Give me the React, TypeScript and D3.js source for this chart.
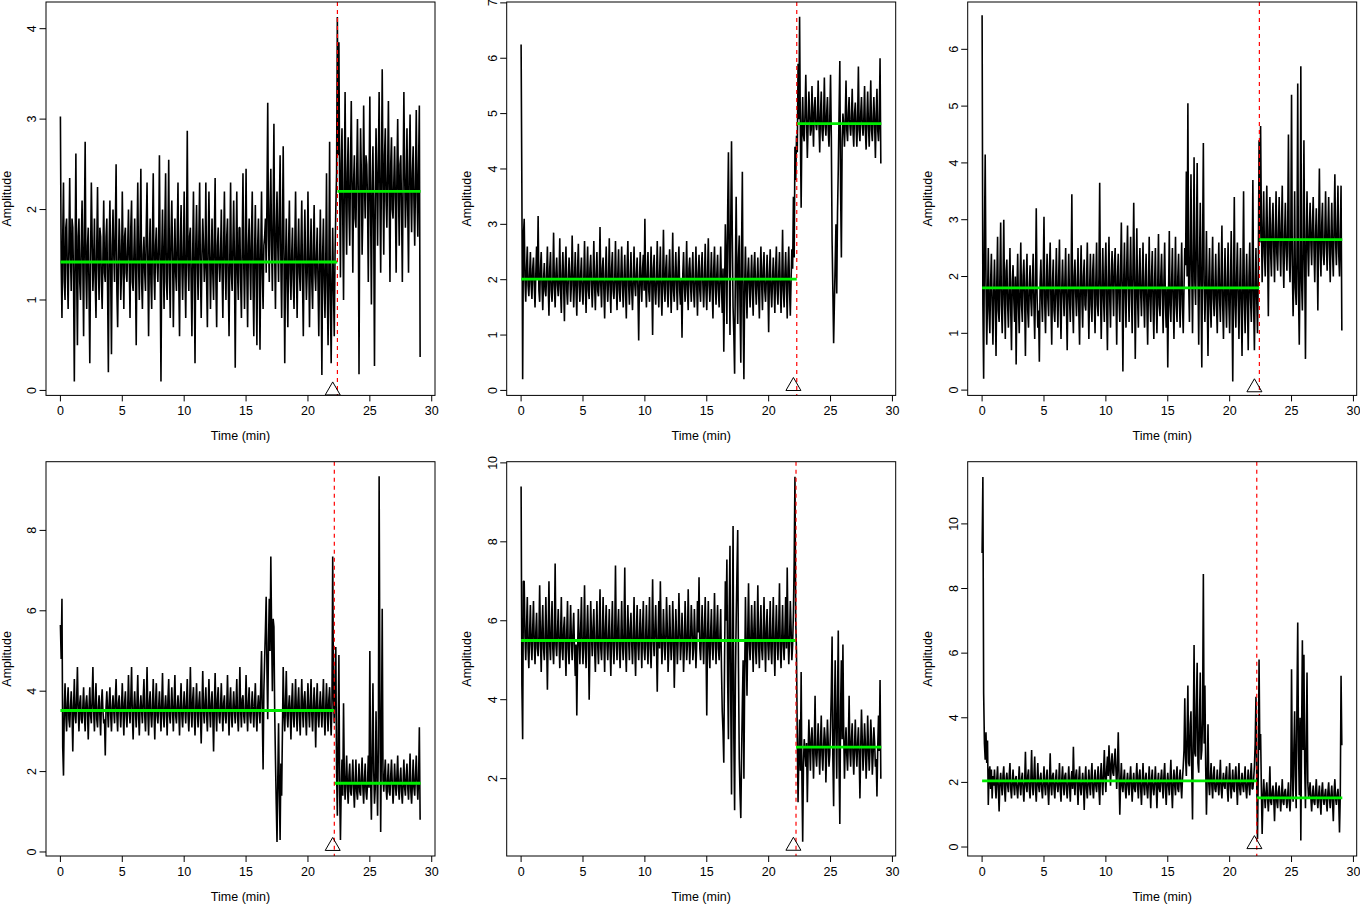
import React from "react";
import * as d3 from "d3";

// sampling step of the hand-read series (minutes); 16 values per minute row
const STEP = 0.0625;

// Panel 1 (top-left)
const amp1 = [
  3.03,1.4, 0.8,1.7, 2.3,1.2, 1.0,1.8, 1.9,1.3, 0.9,1.6, 2.35,1.5, 1.1,1.9,
  1.8,1.2, 0.1,1.5, 2.62,1.3, 0.5,1.7, 1.9,1.2, 1.0,1.6, 2.1,1.4, 0.6,1.8,
  2.75,1.3, 0.9,1.6, 1.8,1.1, 0.3,1.5, 2.3,1.7, 1.1,1.4, 1.9,1.2, 0.8,1.6,
  2.25,1.4, 1.0,1.8, 1.7,1.2, 0.9,1.5, 2.1,1.3, 1.2,1.7, 1.9,1.1, 0.2,1.6,
  2.1,1.3, 0.4,1.6, 2.0,1.5, 1.2,1.8, 2.5,1.1, 0.7,1.4, 1.9,1.6, 1.0,1.3,
  2.2,1.5, 0.9,1.7, 1.8,1.3, 1.2,1.6, 2.0,1.4, 0.8,1.8, 2.1,1.2, 1.1,1.5,
  1.9,1.3, 0.5,1.6, 2.3,1.4, 1.0,1.7, 2.45,1.2, 0.9,1.5, 1.7,1.3, 1.1,1.8,
  2.3,1.4, 0.6,1.5, 1.9,1.2, 0.9,1.7, 2.4,1.3, 1.0,1.6, 1.8,1.4, 1.2,1.6,
  2.6,1.3, 0.1,1.5, 2.0,1.4, 0.9,1.8, 2.4,1.2, 1.0,1.6, 2.55,1.3, 0.8,1.7,
  2.1,1.5, 0.7,1.4, 1.9,1.3, 1.1,1.7, 2.3,1.2, 0.6,1.6, 2.05,1.4, 1.0,1.5,
  2.2,1.3, 0.8,1.6, 2.87,1.4, 1.1,1.7, 1.8,1.2, 0.6,1.5, 2.2,1.3, 0.3,1.6,
  2.05,1.4, 1.0,1.7, 2.3,1.3, 0.8,1.5, 1.9,1.6, 1.2,1.4, 2.3,1.2, 0.7,1.6,
  2.2,1.5, 0.9,1.4, 1.9,1.3, 1.0,1.7, 2.35,1.2, 0.7,1.6, 1.8,1.4, 1.2,1.5,
  2.0,1.3, 0.8,1.6, 2.2,1.4, 1.0,1.7, 1.9,1.2, 0.6,1.5, 2.3,1.3, 1.1,1.6,
  2.1,1.4, 0.25,1.5, 2.2,1.3, 1.0,1.8, 1.8,1.2, 0.8,1.6, 2.4,1.4, 0.9,1.5,
  2.45,1.3, 0.7,1.6, 1.9,1.4, 1.0,1.7, 2.2,1.2, 0.6,1.5, 2.05,1.3, 0.5,1.6,
  1.9,1.4, 0.45,1.5, 2.2,1.3, 0.9,1.6, 1.7,1.9, 1.3,2.1, 3.18,1.7, 1.2,2.0,
  2.45,1.6, 1.1,1.9, 2.95,1.5, 0.9,1.8, 2.2,1.6, 1.2,2.0, 2.6,1.4, 0.8,1.7,
  2.7,1.5, 0.3,1.4, 1.9,1.2, 0.7,1.6, 2.1,1.3, 1.0,1.5, 1.8,1.2, 0.9,1.6,
  2.2,1.4, 0.8,1.5, 1.9,1.3, 1.1,1.6, 2.1,1.2, 0.6,1.5, 2.0,1.4, 1.0,1.3,
  2.2,1.5, 0.7,1.4, 1.9,1.2, 0.9,1.6, 2.05,1.3, 1.1,1.5, 1.8,1.2, 0.6,1.4,
  2.0,1.3, 0.17,1.5, 1.9,1.2, 0.8,1.4, 2.4,1.1, 0.5,1.3, 2.75,1.0, 0.3,1.2,
  1.8,1.1, 0.6,1.5, 2.0,2.4, 4.13,2.6, 3.85,2.2, 1.25,2.5, 2.9,1.9, 1.0,2.3,
  3.3,2.1, 1.5,2.4, 2.8,2.0, 1.6,2.5, 3.2,2.2, 1.3,2.3, 2.6,1.9, 1.8,2.4,
  3.0,2.2, 0.18,2.1, 2.9,2.4, 1.5,2.0, 3.15,2.3, 1.9,2.6, 2.5,2.1, 1.2,2.3,
  3.25,2.0, 0.95,2.2, 2.7,1.8, 0.27,2.1, 2.9,2.3, 1.6,2.5, 3.3,2.2, 1.3,2.4,
  3.55,2.3, 1.5,2.6, 2.9,2.1, 1.8,2.4, 3.2,2.2, 1.2,2.5, 2.8,2.0, 1.9,2.3,
  2.7,2.1, 1.3,2.4, 3.0,2.2, 1.6,2.5, 2.6,2.0, 1.2,2.3, 3.3,2.4, 1.8,2.2,
  2.9,2.0, 1.3,2.5, 3.05,2.2, 1.75,2.4, 2.7,2.1, 1.6,2.3, 3.1,2.2, 1.7,2.5,
  3.15,0.37,
];

// Panel 2 (top-middle)
const amp2 = [
  6.25,3.6, 0.2,2.8, 3.1,2.0, 1.6,2.2, 2.6,1.9, 1.7,2.1, 2.5,1.9, 1.65,2.2,
  2.4,1.9, 1.5,2.1, 2.6,2.0, 3.15,1.8, 1.6,2.2, 2.5,1.9, 1.45,2.0, 2.3,1.8,
  1.7,2.1, 2.6,1.9, 1.35,2.2, 2.5,1.8, 1.6,2.0, 2.85,1.9, 1.5,2.1, 2.4,1.9,
  1.7,2.0, 2.75,1.8, 1.4,2.1, 2.5,1.9, 1.25,2.2, 2.6,1.8, 1.55,2.0, 2.4,2.1,
  1.6,1.9, 2.8,2.1, 1.5,2.0, 2.5,1.8, 1.35,2.2, 2.65,1.9, 1.6,2.1, 2.4,1.8,
  1.55,2.0, 2.7,1.9, 1.4,2.1, 2.6,1.8, 1.65,2.2, 2.45,1.9, 1.5,2.0, 2.7,1.9,
  1.45,2.1, 2.5,1.8, 1.7,2.0, 2.95,1.9, 1.5,2.2, 2.4,1.8, 1.3,2.1, 2.6,1.9,
  1.6,2.0, 2.75,1.9, 1.4,2.2, 2.5,1.8, 1.65,2.0, 2.7,1.9, 1.45,2.1, 2.55,1.8,
  1.6,2.1, 2.6,1.9, 1.5,2.0, 2.45,1.8, 1.3,2.2, 2.7,1.9, 1.55,2.0, 2.5,1.8,
  1.45,2.0, 2.6,1.9, 1.7,2.1, 2.4,1.8, 0.9,2.0, 2.5,1.9, 1.6,2.2, 2.45,1.8,
  3.1,1.9, 1.5,2.1, 2.5,1.8, 1.6,2.0, 2.6,1.9, 1.0,2.2, 2.45,1.8, 1.55,2.0,
  2.7,1.9, 1.5,2.1, 2.6,1.8, 1.35,2.0, 2.9,1.9, 1.6,2.2, 2.45,1.8, 1.5,2.1,
  2.55,1.9, 1.4,2.0, 2.85,1.8, 1.6,2.1, 2.5,1.9, 1.45,2.2, 2.6,1.8, 1.55,2.0,
  0.95,2.1, 2.5,1.9, 1.6,2.0, 2.7,1.8, 1.45,2.2, 2.4,1.9, 1.6,2.1, 2.5,1.8,
  1.5,2.0, 2.6,1.9, 1.35,2.1, 2.45,1.8, 1.6,2.2, 2.5,1.9, 1.5,2.0, 2.65,1.8,
  1.45,2.1, 2.75,1.9, 1.6,2.0, 2.5,1.8, 1.3,2.2, 2.6,1.9, 1.55,2.1, 2.45,1.8,
  1.5,2.0, 2.6,1.9, 1.4,2.2, 0.7,1.8, 3.0,2.4, 1.2,3.2, 4.3,2.5, 1.0,3.0,
  4.5,2.8, 1.5,1.0, 0.3,2.2, 3.5,2.0, 1.2,2.4, 2.8,1.5, 0.5,2.6, 3.95,1.4,
  0.2,1.9, 2.6,1.8, 1.3,2.1, 2.4,1.9, 1.5,2.0, 2.45,1.8, 1.35,2.2, 2.5,1.9,
  1.55,2.0, 2.4,1.8, 1.3,2.1, 2.6,1.9, 1.45,2.2, 2.5,1.8, 1.6,2.0, 2.45,1.9,
  1.05,2.1, 2.55,1.8, 1.5,2.0, 2.4,1.9, 1.4,2.2, 2.6,1.8, 1.55,2.1, 2.5,1.9,
  1.4,2.0, 2.9,1.8, 1.5,2.1, 2.5,1.9, 1.3,2.2, 2.6,1.8, 1.35,2.0, 2.55,2.2,
  3.5,2.4, 4.4,3.8, 4.6,4.3, 5.9,4.9, 6.75,4.7, 3.3,4.8, 5.3,4.6, 4.5,5.0,
  5.7,4.9, 4.2,4.8, 5.4,5.0, 4.6,4.7, 5.5,4.9, 4.4,5.1, 5.3,4.8, 4.7,4.9,
  5.6,4.8, 4.3,5.0, 5.4,4.7, 4.5,4.9, 5.65,4.8, 4.6,5.0, 5.3,4.7, 4.4,4.9,
  5.7,4.6, 2.7,1.8, 0.85,1.6, 2.3,3.0, 1.75,3.2, 4.0,5.0, 5.95,3.6, 2.4,4.5,
  5.0,4.8, 4.4,4.9, 5.6,4.7, 4.5,5.0, 5.3,4.8, 4.6,4.9, 5.45,4.7, 4.4,5.0,
  5.2,4.8, 4.4,4.9, 5.85,4.7, 4.5,5.0, 5.3,4.8, 4.6,4.9, 5.5,4.7, 4.35,4.9,
  5.4,4.8, 4.4,5.0, 5.6,4.7, 4.5,4.9, 5.3,4.8, 4.2,5.0, 5.45,4.7, 4.5,4.9,
  6.0,4.1,
];

// Panel 3 (top-right)
const amp3 = [
  6.6,1.5, 0.2,2.6, 4.15,1.9, 0.8,1.6, 2.5,1.4, 1.0,1.9, 2.4,1.5, 0.8,1.7,
  2.3,1.6, 0.6,1.9, 2.7,1.4, 1.2,2.0, 2.95,1.5, 1.0,1.8, 3.0,1.6, 0.9,2.1,
  2.3,1.5, 1.1,1.8, 2.5,1.4, 0.7,1.9, 2.2,1.6, 1.2,2.0, 0.45,1.7, 2.4,1.5,
  1.0,1.8, 2.6,1.5, 1.2,2.0, 2.3,1.6, 0.6,1.9, 2.4,1.4, 1.1,1.8, 2.2,1.6,
  1.3,1.9, 2.4,1.5, 0.9,1.8, 3.2,1.7, 1.1,1.4, 0.5,1.9, 2.3,1.6, 1.2,2.0,
  3.05,1.5, 1.0,1.8, 2.4,1.6, 1.3,2.1, 2.6,1.5, 0.8,1.9, 2.3,1.4, 1.2,1.8,
  2.5,1.6, 1.1,2.0, 2.65,1.5, 0.9,1.8, 2.3,1.7, 1.3,1.9, 2.5,1.5, 0.7,1.8,
  2.4,1.6, 1.2,1.9, 3.45,1.5, 1.0,2.0, 2.3,1.7, 1.3,1.8, 2.5,1.4, 0.8,1.9,
  2.55,1.6, 1.1,2.0, 2.3,1.5, 1.4,1.9, 2.6,1.7, 0.9,1.8, 2.4,1.5, 1.2,2.1,
  2.4,1.6, 1.0,1.9, 2.6,1.5, 1.3,2.0, 3.65,1.7, 0.9,1.8, 2.5,1.6, 1.2,2.1,
  2.6,1.5, 0.7,1.9, 2.7,1.6, 1.1,2.0, 2.45,1.8, 1.3,2.2, 2.5,1.7, 0.8,2.0,
  2.4,1.6, 1.2,2.1, 2.95,1.8, 0.33,1.9, 2.6,1.7, 1.1,2.2, 2.9,1.8, 1.2,2.0,
  2.7,1.7, 1.0,2.1, 3.3,1.9, 0.55,1.8, 2.85,1.6, 1.1,2.0, 2.5,1.7, 1.3,1.9,
  2.6,1.6, 1.1,1.9, 2.4,1.5, 0.8,1.8, 2.7,1.6, 1.2,2.0, 2.45,1.5, 0.9,1.9,
  2.5,1.6, 1.0,1.8, 2.75,1.5, 1.3,2.0, 2.4,1.7, 1.0,1.9, 2.6,1.5, 1.1,1.8,
  0.4,1.7, 2.8,1.5, 1.2,1.9, 2.5,1.6, 0.9,1.8, 2.7,1.5, 1.2,2.0, 2.4,1.6,
  1.1,1.9, 2.6,1.5, 1.0,1.8, 2.5,2.2, 3.85,2.0, 5.05,1.9, 1.2,2.4, 3.8,2.1,
  1.0,2.3, 4.1,1.9, 1.5,2.6, 4.0,2.0, 0.8,2.2, 3.3,1.8, 0.4,2.5, 4.35,1.9,
  1.2,1.8, 2.8,1.6, 0.6,1.9, 2.5,1.5, 1.1,2.0, 2.7,1.6, 1.3,1.8, 2.4,1.5,
  1.0,1.9, 2.6,1.6, 1.2,2.0, 2.9,1.5, 0.9,1.8, 2.5,1.6, 1.1,1.9, 2.6,1.5,
  1.0,1.8, 2.8,1.6, 0.15,1.9, 3.4,1.5, 1.1,2.0, 2.6,1.6, 0.9,1.8, 2.5,1.5,
  0.6,1.9, 3.5,1.6, 1.0,1.8, 2.4,1.5, 0.7,2.0, 2.6,1.6, 1.2,1.9, 3.7,1.5,
  0.7,1.8, 2.5,1.6, 1.0,2.0, 4.4,2.6, 4.65,3.0, 1.9,2.7, 3.5,2.4, 2.0,2.8,
  3.6,2.5, 1.3,2.8, 3.4,2.4, 2.0,2.9, 3.3,2.5, 1.9,2.7, 3.5,2.4, 2.1,2.8,
  3.4,2.6, 2.0,2.9, 3.6,2.4, 1.8,2.7, 3.3,2.5, 2.1,2.8, 4.5,2.4, 1.9,2.6,
  5.2,2.2, 1.3,2.0, 3.5,1.8, 1.5,2.3, 5.4,1.7, 0.8,2.1, 5.7,1.9, 1.4,2.4,
  4.4,2.3, 0.55,2.6, 3.5,2.5, 2.0,2.8, 3.3,2.6, 2.2,2.9, 3.4,2.5, 1.9,2.7,
  3.2,2.6, 1.4,2.8, 3.9,2.5, 2.0,2.9, 3.3,2.4, 2.2,2.7, 3.5,2.6, 2.1,2.8,
  3.4,2.5, 1.9,2.7, 3.3,2.4, 2.0,2.9, 3.8,2.6, 2.2,2.8, 3.6,2.4, 2.0,2.7,
  3.6,1.05,
];

// Panel 4 (bottom-left)
const amp4 = [
  5.65,4.8, 6.3,2.6, 1.9,3.5, 4.2,3.4, 3.0,3.7, 4.1,3.3, 3.1,3.6, 4.0,3.5,
  2.5,3.6, 4.3,3.4, 3.2,3.8, 4.6,3.5, 3.0,3.7, 3.9,3.3, 3.2,3.6, 4.1,3.4,
  3.0,3.7, 3.9,3.5, 2.8,3.6, 4.1,3.4, 3.2,3.8, 4.6,3.5, 3.0,3.7, 4.2,3.3,
  3.1,3.6, 3.9,3.4, 2.9,3.7, 4.05,3.5, 3.2,3.3, 2.4,3.6, 4.0,3.5, 3.1,3.7,
  4.1,3.4, 3.0,3.6, 3.9,3.5, 3.2,3.8, 4.3,3.4, 3.0,3.7, 3.9,3.5, 3.1,3.6,
  4.2,3.5, 2.9,3.7, 4.0,3.4, 3.1,3.6, 4.4,3.5, 3.2,3.8, 4.6,3.4, 2.8,3.6,
  4.0,3.5, 3.1,3.7, 4.4,3.4, 2.9,3.6, 3.9,3.5, 3.2,3.8, 4.3,3.4, 3.0,3.6,
  4.6,3.5, 2.9,3.7, 4.0,3.4, 3.1,3.6, 4.3,3.5, 2.8,3.7, 4.2,3.4, 3.2,3.6,
  4.0,3.5, 3.0,3.7, 4.45,3.4, 3.1,3.6, 3.9,3.5, 2.9,3.8, 4.3,3.4, 3.2,3.6,
  4.1,3.5, 3.0,3.7, 4.4,3.4, 3.2,3.6, 3.9,3.5, 2.9,3.7, 4.2,3.4, 3.1,3.6,
  4.0,3.5, 3.2,3.7, 4.3,3.4, 3.0,3.6, 4.6,3.5, 3.1,3.8, 4.1,3.4, 2.9,3.6,
  4.2,3.5, 3.1,3.7, 4.0,3.4, 2.7,3.6, 4.5,3.5, 3.2,3.7, 4.1,3.4, 3.0,3.6,
  4.3,3.5, 3.1,3.7, 4.0,3.4, 2.5,3.6, 4.45,3.5, 3.0,3.8, 4.1,3.4, 3.2,3.6,
  4.2,3.5, 3.0,3.7, 3.9,3.4, 3.2,3.6, 4.4,3.5, 2.9,3.7, 4.1,3.4, 3.1,3.6,
  4.0,3.5, 3.2,3.7, 4.3,3.4, 3.0,3.6, 4.6,3.5, 3.1,3.8, 3.9,3.4, 3.2,3.6,
  4.4,3.5, 3.0,3.7, 4.1,3.4, 3.2,3.6, 4.0,3.5, 3.1,3.7, 4.2,3.4, 3.0,3.6,
  3.9,3.5, 3.2,4.2, 5.0,3.4, 2.05,4.0, 4.8,5.5, 6.35,4.5, 3.3,5.2, 6.3,5.0,
  7.35,5.5, 4.0,5.8, 5.6,3.5, 2.3,1.2, 0.25,1.8, 3.2,1.5, 0.3,2.2, 1.4,3.0,
  4.6,3.5, 3.0,3.7, 4.5,3.4, 3.1,3.6, 3.9,3.5, 2.8,3.7, 4.2,3.4, 3.1,3.6,
  4.3,3.5, 3.0,3.7, 4.1,3.4, 2.9,3.6, 4.3,3.5, 3.1,3.8, 4.0,3.4, 2.9,3.6,
  4.2,3.5, 3.1,3.7, 4.3,3.4, 3.0,3.6, 4.1,3.5, 2.6,3.7, 4.2,3.4, 3.1,3.6,
  4.0,3.5, 3.1,3.7, 4.3,3.4, 2.9,3.6, 4.2,3.5, 3.0,3.8, 4.1,3.4, 2.9,3.6,
  7.35,3.9, 3.2,4.2, 5.1,2.0, 0.9,2.8, 4.9,1.5, 0.3,1.6, 2.3,1.4, 3.7,1.9,
  1.3,1.8, 2.4,1.6, 1.2,1.9, 2.2,1.5, 1.4,1.8, 2.3,1.6, 1.1,1.7, 2.3,1.5,
  1.3,1.7, 2.2,1.5, 1.4,1.9, 2.35,1.6, 1.2,1.8, 2.2,1.5, 1.3,1.7, 2.4,1.6,
  5.0,1.8, 0.8,2.5, 4.2,2.0, 1.2,1.6, 3.5,2.1, 0.9,2.6, 9.35,4.0, 0.5,2.8,
  6.05,1.8, 1.5,1.9, 2.3,1.6, 1.3,1.8, 2.2,1.5, 1.4,1.9, 2.3,1.7, 1.2,1.6,
  2.2,1.7, 1.4,1.9, 2.4,1.6, 1.3,1.8, 2.1,1.5, 1.2,1.7, 2.3,1.6, 1.4,1.9,
  2.2,1.6, 1.3,1.8, 2.45,1.5, 1.2,1.7, 2.3,1.6, 1.4,1.9, 2.4,1.7, 1.3,1.8,
  3.1,0.8,
];

// Panel 5 (bottom-middle)
const amp5 = [
  9.4,4.4, 3.0,7.0, 7.0,5.6, 5.0,5.8, 6.6,5.3, 4.8,5.7, 6.4,5.4, 5.0,5.8,
  6.5,5.4, 4.9,5.7, 6.2,5.3, 5.1,5.6, 6.9,5.5, 4.7,5.8, 6.4,5.3, 5.0,5.6,
  6.6,5.5, 4.25,5.7, 7.0,5.4, 5.0,5.8, 6.5,5.3, 4.9,5.6, 7.45,5.4, 5.1,5.7,
  6.3,5.5, 4.8,5.6, 6.6,5.3, 5.0,5.8, 6.1,5.4, 4.6,5.7, 6.5,5.3, 4.9,5.6,
  6.4,5.5, 5.0,5.7, 6.2,5.3, 4.6,5.4, 3.6,5.2, 6.3,5.5, 4.9,5.8, 6.6,5.4,
  4.9,5.6, 6.9,5.3, 4.8,5.7, 6.4,5.5, 4.0,5.4, 6.5,5.6, 5.1,5.8, 6.3,5.3,
  4.7,5.6, 6.5,5.4, 4.9,5.7, 6.8,5.3, 5.0,5.6, 6.6,5.5, 4.7,5.8, 6.4,5.4,
  5.0,5.6, 6.3,5.3, 4.6,5.7, 6.5,5.4, 4.9,5.6, 7.4,5.5, 5.0,5.8, 6.3,5.3,
  4.8,5.6, 6.5,5.4, 5.0,5.7, 7.35,5.3, 4.7,5.6, 6.4,5.5, 5.0,5.8, 6.2,5.4,
  4.9,5.6, 6.6,5.3, 4.6,5.7, 6.4,5.4, 5.0,5.6, 6.3,5.5, 4.8,5.8, 6.5,5.3,
  5.0,5.6, 6.4,5.4, 4.9,5.7, 6.6,5.3, 4.8,5.6, 7.05,5.5, 5.1,5.8, 6.4,5.4,
  4.2,5.6, 6.5,5.3, 7.0,5.7, 4.9,5.4, 6.3,5.6, 5.0,5.5, 6.6,5.8, 4.7,5.3,
  6.4,5.6, 5.0,5.4, 6.5,5.7, 4.3,5.3, 6.3,5.6, 4.9,5.5, 6.7,5.8, 5.0,5.4,
  6.2,5.6, 4.7,5.3, 6.5,5.7, 5.0,5.4, 6.8,5.6, 4.9,5.5, 6.4,5.8, 5.0,5.3,
  6.3,5.6, 4.8,5.4, 6.5,5.7, 7.1,5.3, 5.0,5.6, 6.4,5.5, 4.9,5.8, 6.6,5.4,
  3.6,5.6, 6.5,5.3, 4.8,5.7, 6.3,5.4, 5.0,5.6, 6.7,5.5, 4.9,5.8, 6.4,5.3,
  5.0,5.6, 6.3,4.8, 3.7,3.2, 2.4,5.0, 7.0,6.0, 7.55,4.5, 3.0,6.2, 7.9,4.0,
  1.6,5.5, 8.4,3.0, 1.2,4.5, 6.0,7.2, 8.3,4.8, 2.5,1.6, 1.0,2.6, 3.9,5.0,
  2.0,4.6, 6.6,5.3, 4.1,5.7, 6.95,5.4, 5.0,5.6, 6.4,5.5, 4.7,5.8, 6.5,5.3,
  4.9,5.6, 6.9,5.4, 4.8,5.7, 6.4,5.3, 5.0,5.6, 6.6,5.5, 4.7,5.8, 6.3,5.4,
  5.0,5.6, 6.5,5.3, 4.9,5.7, 6.6,5.4, 4.6,5.6, 6.4,5.5, 5.0,5.8, 6.95,5.3,
  4.8,5.6, 6.4,5.4, 5.0,5.7, 6.6,5.3, 7.35,5.6, 4.9,5.5, 6.5,5.8, 5.0,5.4,
  6.2,7.5, 9.65,6.0, 5.2,3.0, 1.4,2.6, 3.5,2.2, 4.7,2.0, 0.4,2.4, 3.0,2.7,
  2.3,2.9, 1.4,2.6, 3.5,2.8, 2.2,3.0, 3.3,2.7, 2.0,2.9, 4.1,2.6, 2.3,2.8,
  3.4,2.7, 2.1,2.9, 3.6,2.6, 2.2,2.8, 3.3,3.0, 1.9,2.7, 3.5,2.9, 2.3,2.6,
  3.3,4.2, 5.6,2.5, 1.3,3.6, 5.0,3.2, 2.0,4.0, 5.75,2.4, 0.85,3.8, 5.0,3.0,
  5.4,3.2, 2.0,2.8, 3.3,2.6, 2.2,2.9, 4.1,2.7, 2.3,3.0, 3.4,2.6, 2.1,2.8,
  3.5,2.7, 2.3,2.9, 3.3,2.6, 1.5,2.8, 3.75,3.0, 2.2,2.7, 3.4,2.9, 2.0,2.6,
  3.6,2.8, 2.2,2.7, 3.5,3.0, 2.1,2.6, 3.3,2.9, 2.3,2.5, 1.55,2.8, 3.6,2.7,
  4.5,2.0,
];

// Panel 6 (bottom-right)
const amp6 = [
  9.1,11.45, 4.75,3.2, 2.7,3.55, 2.6,3.3, 1.3,2.3, 2.5,1.8, 2.4,1.5, 2.2,1.9,
  2.4,1.9, 1.5,2.1, 2.5,1.8, 1.1,2.0, 2.3,1.9, 1.6,2.2, 2.5,1.8, 1.4,2.1,
  2.3,1.9, 1.7,2.2, 2.6,1.8, 1.5,2.0, 2.4,1.9, 1.6,2.1, 2.2,1.8, 1.5,2.0,
  2.5,1.9, 1.6,2.1, 2.3,1.8, 1.4,2.0, 2.95,1.9, 1.7,2.2, 2.4,1.8, 1.5,2.1,
  3.0,1.9, 1.6,2.2, 2.8,1.8, 1.4,2.0, 2.6,1.9, 1.7,2.1, 2.3,1.8, 1.5,2.0,
  2.5,1.9, 1.6,2.1, 2.4,1.8, 1.3,2.0, 2.9,1.9, 1.6,2.2, 2.3,1.8, 1.5,2.1,
  2.4,1.9, 1.7,2.0, 2.6,1.8, 1.4,2.1, 2.5,1.9, 1.6,2.2, 2.3,1.8, 1.5,2.0,
  2.5,1.9, 1.4,2.1, 2.35,1.8, 3.1,2.0, 1.6,2.2, 2.4,1.9, 1.3,2.1, 2.5,1.8,
  1.6,2.0, 2.3,1.9, 1.15,2.1, 2.5,1.8, 1.5,2.0, 2.4,1.9, 1.6,2.2, 2.6,1.8,
  1.5,2.0, 2.4,1.9, 1.7,2.1, 2.5,1.8, 1.3,2.2, 2.6,2.0, 1.6,2.3, 3.0,2.1,
  1.7,2.4, 2.8,2.2, 3.15,2.5, 1.9,2.6, 2.9,2.3, 2.2,2.7, 3.05,2.4, 1.8,2.5,
  3.55,2.2, 1.0,2.0, 2.6,1.9, 1.7,2.1, 2.4,1.8, 1.5,2.0, 2.3,1.9, 1.6,2.1,
  2.5,1.9, 1.4,2.0, 2.3,1.8, 1.7,2.1, 2.6,1.9, 1.5,2.2, 2.4,1.8, 1.3,2.0,
  2.6,1.9, 1.6,2.1, 2.3,1.8, 1.5,2.0, 2.5,1.9, 1.2,2.1, 2.4,1.8, 1.6,2.0,
  2.5,1.9, 1.2,2.0, 2.3,1.8, 1.7,2.1, 2.4,1.9, 1.5,2.2, 2.6,1.8, 1.3,2.0,
  2.3,1.9, 1.6,2.1, 2.7,1.8, 1.2,2.0, 2.4,1.9, 1.6,2.2, 2.5,1.8, 1.7,2.1,
  2.4,1.9, 1.5,2.1, 2.5,3.0, 4.6,2.8, 2.2,3.5, 5.0,2.6, 2.5,3.8, 4.2,2.4,
  0.85,3.5, 6.25,2.9, 2.8,4.4, 5.7,2.6, 2.3,3.9, 5.4,2.7, 3.0,4.0, 8.45,3.2,
  5.0,2.5, 1.0,2.2, 3.8,2.0, 1.6,2.1, 2.6,1.9, 1.5,2.2, 2.5,1.8, 1.7,2.0,
  2.4,1.9, 1.6,2.1, 2.7,1.8, 1.5,2.0, 2.3,1.9, 1.8,2.2, 2.5,1.8, 1.4,2.1,
  2.6,1.9, 1.5,2.0, 2.4,1.8, 1.7,2.2, 2.5,1.9, 1.3,2.1, 2.6,1.8, 1.6,2.0,
  2.3,1.9, 1.7,2.1, 2.5,1.8, 1.5,2.0, 2.4,1.9, 1.6,2.2, 2.6,1.8, 1.8,2.1,
  2.5,3.2, 4.65,2.0, 0.25,2.4, 5.8,3.0, 3.5,1.8, 0.4,1.5, 2.1,1.6, 1.2,1.7,
  2.0,1.5, 1.1,1.6, 2.5,1.4, 1.3,1.7, 1.9,1.5, 0.8,1.6, 2.0,1.4, 1.2,1.7,
  1.9,1.5, 1.1,1.6, 2.1,1.4, 1.3,1.7, 1.8,1.5, 1.2,1.6, 2.0,1.4, 1.1,1.6,
  5.5,2.4, 1.4,3.0, 4.2,2.2, 1.2,4.5, 6.95,3.0, 1.6,4.0, 0.2,3.5, 6.4,3.0,
  5.95,2.5, 1.2,3.2, 5.4,2.0, 1.5,1.7, 2.0,1.5, 1.1,1.6, 1.9,1.4, 1.3,1.7,
  2.1,1.5, 1.2,1.6, 1.9,1.4, 1.0,1.7, 2.0,1.5, 1.3,1.6, 1.8,1.4, 1.1,1.7,
  2.0,1.5, 1.2,1.6, 1.9,1.4, 0.8,1.7, 2.1,1.5, 1.3,1.6, 1.8,1.4, 0.45,1.6,
  5.3,3.15,
];

const series = [amp1, amp2, amp3, amp4, amp5, amp6];
const changeTimes = [22.38, 22.27, 22.4, 22.13, 22.21, 22.19];
const levelsBefore = [1.42, 2.01, 1.8, 3.52, 5.5, 2.05];
const levelsAfter = [2.2, 4.82, 2.65, 1.71, 2.8, 1.52];
const markerTimes = [22, 22, 22, 22, 22, 22];
const markerValues = [0, 0.08, 0.05, 0.15, 0.3, 0.09];
const seriesEnd = 29.1;
const xTicks = [0, 5, 10, 15, 20, 25, 30];
const yTicksList = [
  [0, 1, 2, 3, 4],
  [0, 1, 2, 3, 4, 5, 6, 7],
  [0, 1, 2, 3, 4, 5, 6],
  [0, 2, 4, 6, 8],
  [2, 4, 6, 8, 10],
  [0, 2, 4, 6, 8, 10],
];
const yDomains = [
  [-0.055, 4.295],
  [-0.09, 7.016],
  [-0.093, 6.833],
  [-0.1, 9.709],
  [0.04, 10.03],
  [-0.278, 11.925],
];
const xDomain = [-1.164, 30.264];

const W = 1360;
const H = 905;
const colLeft = [46, 506.7, 967.7];
const boxW = 389;
const rowTop = [2, 461.7];
const rowBottom = [395.4, 856];
const FONT = "'Liberation Sans', Arial, Helvetica, sans-serif";

function Panel({ idx }: { idx: number }) {
  const col = idx % 3;
  const row = Math.floor(idx / 3);
  const x0 = colLeft[col];
  const x1 = x0 + boxW;
  const y0 = rowTop[row];
  const y1 = rowBottom[row];
  const xs = d3.scaleLinear().domain(xDomain).range([x0, x1]);
  const ys = d3.scaleLinear().domain(yDomains[idx]).range([y1, y0]);
  const data = series[idx];
  const line = d3
    .line<number>()
    .x((_, i) => xs(i * STEP))
    .y((d) => ys(d));
  const cp = changeTimes[idx];
  const mx = xs(markerTimes[idx]);
  const my = ys(markerValues[idx]);
  const tri = `M${mx},${my - 8.5}L${mx + 7.5},${my + 4.5}L${mx - 7.5},${my + 4.5}Z`;
  const clipId = `clip${idx}`;
  return (
    <g>
      <defs>
        <clipPath id={clipId}>
          <rect x={x0} y={y0} width={x1 - x0} height={y1 - y0} />
        </clipPath>
      </defs>
      <g clipPath={`url(#${clipId})`}>
        <path d={line(data) || ""} fill="none" stroke="#000" strokeWidth={1.6} strokeLinejoin="bevel" />
        <line x1={xs(0)} x2={xs(cp)} y1={ys(levelsBefore[idx])} y2={ys(levelsBefore[idx])} stroke="#00ee00" strokeWidth={2.8} />
        <line x1={xs(cp)} x2={xs(seriesEnd)} y1={ys(levelsAfter[idx])} y2={ys(levelsAfter[idx])} stroke="#00ee00" strokeWidth={2.8} />
        <line x1={xs(cp)} x2={xs(cp)} y1={y0} y2={y1} stroke="#ff0000" strokeWidth={1.2} strokeDasharray="4,4" />
        <path d={tri} fill="none" stroke="#000" strokeWidth={1} />
      </g>
      <rect x={x0} y={y0} width={x1 - x0} height={y1 - y0} fill="none" stroke="#000" strokeWidth={1} />
      {xTicks.map((t) => (
        <g key={"x" + t}>
          <line x1={xs(t)} x2={xs(t)} y1={y1} y2={y1 + 6} stroke="#000" strokeWidth={1} />
          <text x={xs(t)} y={y1 + 20} textAnchor="middle" fontSize={12.5} fontFamily={FONT}>
            {t}
          </text>
        </g>
      ))}
      {yTicksList[idx].map((t) => (
        <g key={"y" + t}>
          <line x1={x0 - 6.5} x2={x0} y1={ys(t)} y2={ys(t)} stroke="#000" strokeWidth={1} />
          <text
            transform={`translate(${x0 - 10},${ys(t)}) rotate(-90)`}
            textAnchor="middle"
            fontSize={12.5}
            fontFamily={FONT}
          >
            {t}
          </text>
        </g>
      ))}
      <text x={(x0 + x1) / 2} y={y1 + 44.5} textAnchor="middle" fontSize={12.5} fontFamily={FONT}>
        Time (min)
      </text>
      <text
        transform={`translate(${x0 - 35.5},${(y0 + y1) / 2}) rotate(-90)`}
        textAnchor="middle"
        fontSize={12.5}
        fontFamily={FONT}
      >
        Amplitude
      </text>
    </g>
  );
}

export default function App() {
  return (
    <svg
      width={W}
      height={H}
      viewBox={`0 0 ${W} ${H}`}
      style={{ position: "absolute", left: 0, top: 0, background: "#fff" }}
    >
      <rect x={0} y={0} width={W} height={H} fill="#fff" />
      {series.map((_, i) => (
        <Panel key={i} idx={i} />
      ))}
    </svg>
  );
}
